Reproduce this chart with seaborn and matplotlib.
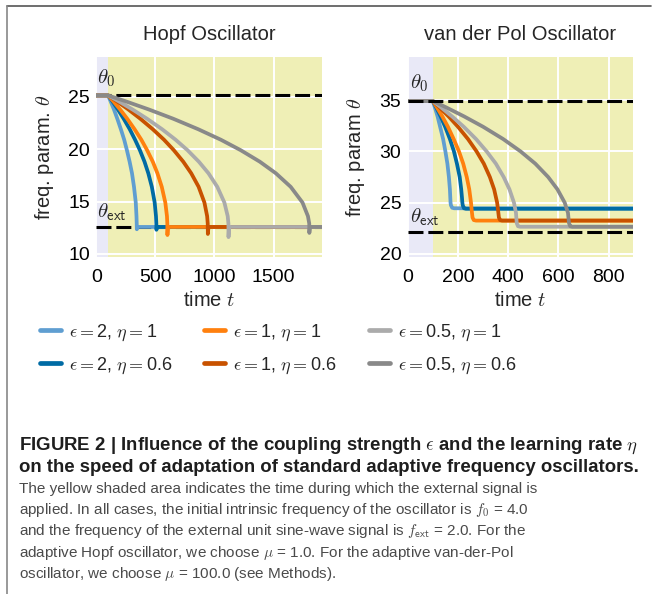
import numpy as np
import pandas as pd
import matplotlib
matplotlib.use("Agg")
import matplotlib.pyplot as plt
import seaborn as sns
from matplotlib.lines import Line2D

# ---------------- data ----------------
labels = [r"$\epsilon = $2, $\eta = $1", r"$\epsilon = $2, $\eta = $0.6",
          r"$\epsilon = $1, $\eta = $1", r"$\epsilon = $1, $\eta = $0.6",
          r"$\epsilon = $0.5, $\eta = $1", r"$\epsilon = $0.5, $\eta = $0.6"]
colors = ["#5F9ED1", "#006BA4", "#FF800E", "#C85200", "#ABABAB", "#898989"]

# Hopf oscillator: theta levels and the time at which each curve passes them
hopf_theta0 = 25.13
hopf_theta_ext = 12.57
hopf_levels = [25.13, 25.13, 24.6, 23.8, 22.9, 21.9, 20.9, 19.9, 18.8, 17.7, 16.4, 14.9, 13.6, 12.9]
hopf_t_lb = [0, 100, 120, 149, 178, 208, 236, 259, 282, 302, 319, 334, 340, 342, 343, 346, 1910]
hopf_t_db = [0, 100, 134, 182, 232, 283, 328, 369, 408, 440, 470, 494, 505, 508, 509, 513, 1910]
hopf_t_or = [0, 100, 142, 201, 262, 324, 381, 430, 478, 517, 554, 584, 598, 601, 602, 606, 1910]
hopf_t_do = [0, 100, 170, 270, 373, 478, 573, 656, 736, 803, 866, 915, 938, 943, 944, 949, 1910]
hopf_t_lg = [0, 100, 185, 305, 430, 557, 671, 772, 868, 949, 1024, 1084, 1112, 1118, 1119, 1124, 1910]
hopf_t_dg = [0, 100, 241, 442, 652, 863, 1054, 1222, 1384, 1519, 1645, 1745, 1791, 1802, 1803, 1808, 1910]
hopf_dips = [12.35, 12.3, 11.8, 11.9, 11.6, 12.0]

# van der Pol oscillator
vdp_theta0 = 34.9
vdp_theta_ext = 22.1
vdp_t_lb = [0, 100, 108, 119, 129, 141, 150, 158, 164, 168, 169.5, 170.5, 172, 177, 185, 898]
vdp_t_db = [0, 100, 113, 131, 149, 168, 184, 196, 207, 213, 216, 217.5, 219, 224, 232, 898]
vdp_t_or = [0, 100, 116, 138, 160, 183, 204, 221, 235, 245, 252, 255, 258, 263, 272, 898]
vdp_t_do = [0, 100, 126, 163, 200, 240, 274, 303, 327, 344, 356, 360, 363, 368, 376, 898]
vdp_t_lg = [0, 100, 132, 177, 223, 272, 314, 351, 382, 405, 423, 431, 434, 439, 447, 898]
vdp_t_dg = [0, 100, 152, 225, 300, 380, 449, 508, 559, 596, 625, 638, 642, 647, 655, 898]
vdp_theta_lb = [34.9, 34.9, 34.3, 33.4, 32.4, 31.2, 30.0, 28.8, 27.5, 26.3, 25.5, 25.0, 24.75, 24.5, 24.45, 24.45]
vdp_theta_db = [34.9, 34.9, 34.3, 33.4, 32.4, 31.2, 30.0, 28.8, 27.5, 26.3, 25.5, 25.0, 24.75, 24.45, 24.4, 24.4]
vdp_theta_or = [34.9, 34.9, 34.3, 33.4, 32.4, 31.2, 30.0, 28.8, 27.5, 26.3, 25.0, 24.2, 23.55, 23.3, 23.25, 23.25]
vdp_theta_do = [34.9, 34.9, 34.3, 33.4, 32.4, 31.2, 30.0, 28.8, 27.5, 26.3, 25.0, 24.2, 23.55, 23.3, 23.25, 23.25]
vdp_theta_lg = [34.9, 34.9, 34.3, 33.4, 32.4, 31.2, 30.0, 28.8, 27.5, 26.3, 25.0, 24.0, 23.0, 22.7, 22.65, 22.65]
vdp_theta_dg = [34.9, 34.9, 34.3, 33.4, 32.4, 31.2, 30.0, 28.8, 27.5, 26.3, 25.0, 24.0, 23.0, 22.7, 22.65, 22.65]

hopf_xticks = [0, 500, 1000, 1500]
hopf_yticks = [10, 15, 20, 25]
vdp_xticks = [0, 200, 400, 600, 800]
vdp_yticks = [20, 25, 30, 35]

# ---------------- build tables ----------------
rows = []
for lab, ts, dip in zip(labels, [hopf_t_lb, hopf_t_db, hopf_t_or, hopf_t_do, hopf_t_lg, hopf_t_dg], hopf_dips):
    th = hopf_levels + [dip, hopf_theta_ext, hopf_theta_ext]
    for i, (t, v) in enumerate(zip(ts, th)):
        rows.append(dict(panel="hopf", label=lab, order=i, t=t, theta=v))
for lab, ts, th in zip(labels, [vdp_t_lb, vdp_t_db, vdp_t_or, vdp_t_do, vdp_t_lg, vdp_t_dg],
                       [vdp_theta_lb, vdp_theta_db, vdp_theta_or, vdp_theta_do, vdp_theta_lg, vdp_theta_dg]):
    for i, (t, v) in enumerate(zip(ts, th)):
        rows.append(dict(panel="vdp", label=lab, order=i, t=t, theta=v))
df = pd.DataFrame(rows)

# ---------------- style ----------------
sns.set_style("darkgrid", {"axes.facecolor": "#EFEFB6", "grid.color": "white"})
sans = "Liberation Sans"
plt.rcParams["font.family"] = [sans, "DejaVu Sans"]
plt.rcParams["mathtext.fontset"] = "cm"
plt.rcParams["font.size"] = 12

fig = plt.figure(figsize=(6.54, 5.94), dpi=100)
W, H = 654, 594

def add_ax(x0, x1, y0, y1):
    return fig.add_axes([x0 / W, 1 - y1 / H, (x1 - x0) / W, (y1 - y0) / H])

ax1 = add_ax(96.3, 322, 57, 257)
ax2 = add_ax(407.7, 633.3, 57, 257)

dash = (4.9, 1.6)

def panel(ax, name, xlim, ylim, xt, yt, th0, thext, title, ylabel, dash_z):
    ax.axvspan(0, 100, color="#E9E9F7", zorder=0.1, lw=0)
    sub = df[df.panel == name].sort_values(["label", "order"])
    ax.axhline(th0, color="black", lw=2.2, dashes=dash, zorder=dash_z)
    ax.axhline(thext, color="black", lw=2.2, dashes=dash, zorder=dash_z)
    sns.lineplot(data=sub, x="t", y="theta", hue="label", hue_order=labels,
                 palette=colors, units="label", estimator=None, sort=False,
                 lw=2.7, legend=False, ax=ax, zorder=2)
    ax.set_xlim(*xlim)
    ax.set_ylim(*ylim)
    ax.set_xticks(xt)
    ax.set_yticks(yt)
    ax.tick_params(axis="both", length=0, labelsize=14, colors="black")
    ax.tick_params(axis="x", pad=8.5)
    ax.tick_params(axis="y", pad=4.5)
    ax.grid(True, color="white", lw=1.4)
    for s in ax.spines.values():
        s.set_visible(False)
    ax.set_title(title, fontsize=14.5, pad=12.5)
    ax.set_xlabel(r"time $t$", fontsize=14.5, labelpad=4)
    ax.set_ylabel(ylabel, fontsize=14.5, labelpad=9)

panel(ax1, "hopf", (0, 1910), (9.7, 28.8), hopf_xticks, hopf_yticks,
      hopf_theta0, hopf_theta_ext, "Hopf Oscillator", r"freq. param. $\theta$", 1.5)
panel(ax2, "vdp", (0, 898), (19.7, 39.2), vdp_xticks, vdp_yticks,
      vdp_theta0, vdp_theta_ext, "van der Pol Oscillator", r"freq. param $\theta$", 3)

ax1.text(8, 25.7, r"$\theta_\mathsf{0}$", fontsize=15, va="bottom", ha="left")
ax1.text(8, 12.95, r"$\theta_\mathsf{ext}$", fontsize=15, va="bottom", ha="left")
ax2.text(8, 35.6, r"$\theta_\mathsf{0}$", fontsize=15, va="bottom", ha="left")
ax2.text(8, 22.55, r"$\theta_\mathsf{ext}$", fontsize=15, va="bottom", ha="left")

handles = [Line2D([0], [0], color=c, lw=3.4) for c in colors]
for col, xh in enumerate([40, 204, 369]):
    fig.legend(handles[2 * col:2 * col + 2], labels[2 * col:2 * col + 2], ncol=1,
               loc="center left", bbox_to_anchor=(xh / W, 1 - 349 / H), frameon=False,
               fontsize=13, handlelength=1.15, handletextpad=0.45,
               labelspacing=0.7, borderaxespad=0, borderpad=0)

# ---------------- frame ----------------
fig.add_artist(Line2D([7 / W, 651 / W], [1 - 6 / H, 1 - 6 / H], color="#555555", lw=1.2))
fig.add_artist(Line2D([7 / W, 7 / W], [1 - 6 / H, 0], color="#888888", lw=1.2))

# ---------------- caption ----------------
bold_lines = [r"FIGURE 2 | Influence of the coupling strength $\epsilon$ and the learning rate $\eta$",
              "on the speed of adaptation of standard adaptive frequency oscillators."]
reg_lines = ["The yellow shaded area indicates the time during which the external signal is",
             r"applied. In all cases, the initial intrinsic frequency of the oscillator is $f_\mathsf{0}$ = 4.0",
             r"and the frequency of the external unit sine-wave signal is $f_\mathsf{ext}$ = 2.0. For the",
             r"adaptive Hopf oscillator, we choose $\mu$ = 1.0. For the adaptive van-der-Pol",
             r"oscillator, we choose $\mu$ = 100.0 (see Methods)."]
y = 446
for ln in bold_lines:
    fig.text(19 / W, 1 - y / H, ln, fontsize=13.4, fontweight="bold", color="#1e1e1e",
             va="center", ha="left")
    y += 21.3
for ln in reg_lines:
    fig.text(19 / W, 1 - y / H, ln, fontsize=11.0, color="#4a4a4a",
             va="center", ha="left")
    y += 21.3

fig.savefig("out.png", dpi=100)
